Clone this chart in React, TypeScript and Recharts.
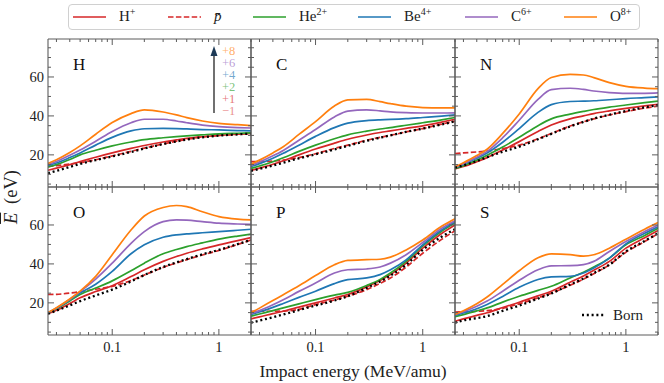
import { LineChart, Line, XAxis, YAxis } from "recharts"

// impact energies (MeV/amu) shared by every panel
const energy = [0.025, 0.03, 0.04, 0.05, 0.07, 0.1, 0.15, 0.2, 0.3, 0.4, 0.5, 0.7, 1, 1.5, 2]

// H target
const hP = [12.1, 13.2, 15.0, 16.5, 18.8, 21.0, 23.3, 24.8, 26.6, 27.7, 28.5, 29.3, 30.0, 30.6, 31.0]
const hPbar = [14.0, 14.5, 15.3, 16.0, 17.5, 19.5, 21.8, 23.5, 25.6, 27.0, 28.0, 29.2, 30.0, 30.6, 31.0]
const hHe = [13.8, 15.0, 17.6, 20.0, 22.4, 24.6, 26.6, 27.8, 28.8, 29.4, 29.8, 30.3, 30.8, 31.1, 31.3]
const hBe = [14.5, 15.8, 18.6, 21.0, 25.0, 29.0, 32.3, 33.4, 33.6, 33.5, 33.3, 33.0, 32.8, 32.5, 32.3]
const hC = [15.0, 16.6, 19.8, 22.5, 27.0, 32.0, 36.5, 38.3, 38.3, 37.4, 36.5, 35.3, 34.5, 34.0, 33.8]
const hO = [15.6, 17.5, 21.2, 24.6, 30.6, 36.6, 41.2, 43.1, 42.0, 40.5, 39.1, 37.4, 36.2, 35.5, 35.0]
const hBorn = [10.6, 11.8, 13.8, 15.4, 17.3, 19.2, 21.5, 23.3, 25.5, 26.9, 27.9, 29.0, 29.9, 30.5, 30.9]

// C target
const cP = [12.0, 13.2, 15.2, 17.0, 20.0, 23.0, 26.0, 28.0, 30.2, 31.5, 32.3, 33.6, 34.9, 36.8, 38.3]
const cPbar = [16.5, 16.5, 16.8, 17.3, 18.6, 20.6, 23.3, 25.0, 27.5, 29.0, 30.0, 31.8, 33.5, 35.8, 37.3]
const cHe = [13.0, 14.3, 16.5, 18.5, 21.8, 25.0, 28.3, 30.3, 32.2, 33.3, 34.0, 35.2, 36.5, 38.0, 39.2]
const cBe = [14.0, 15.5, 18.3, 20.8, 25.0, 29.5, 34.0, 36.3, 37.6, 38.0, 38.2, 38.6, 39.2, 39.9, 40.5]
const cC = [14.6, 16.3, 19.5, 22.3, 27.5, 33.0, 39.5, 42.5, 43.1, 42.6, 42.1, 41.7, 41.5, 41.5, 41.6]
const cO = [15.2, 17.3, 21.0, 24.2, 30.5, 37.1, 45.1, 48.2, 48.5, 47.3, 46.3, 45.0, 44.3, 44.1, 44.1]
const cBorn = [11.8, 12.8, 14.5, 16.0, 18.2, 20.3, 22.8, 24.6, 27.2, 28.8, 30.0, 31.8, 33.5, 35.6, 37.2]

// N target
const nP = [12.8, 14.0, 16.5, 18.6, 22.5, 26.8, 32.0, 35.3, 38.5, 40.0, 41.2, 42.6, 43.9, 45.2, 46.0]
const nPbar = [20.7, 21.0, 21.5, 22.0, 23.2, 25.0, 28.3, 31.0, 34.8, 37.0, 38.5, 40.5, 42.2, 44.0, 45.0]
const nHe = [13.0, 14.5, 17.3, 19.8, 24.0, 29.0, 35.0, 38.5, 40.9, 42.3, 43.3, 44.5, 45.6, 46.8, 47.6]
const nBe = [13.5, 15.2, 18.3, 21.0, 26.5, 33.5, 41.8, 45.8, 47.4, 47.6, 47.8, 48.3, 48.9, 49.4, 49.8]
const nC = [13.5, 15.5, 18.8, 21.8, 28.8, 37.8, 48.5, 53.5, 54.2, 53.6, 52.8, 52.0, 51.6, 51.6, 51.8]
const nO = [13.8, 16.0, 19.7, 22.9, 31.0, 41.0, 54.0, 59.7, 61.3, 61.0, 59.7, 57.1, 55.2, 54.3, 54.0]
const nBorn = [13.5, 14.6, 16.8, 18.8, 21.6, 24.2, 28.0, 30.8, 34.6, 36.9, 38.6, 40.6, 42.5, 44.4, 45.5]

// O target
const oP = [14.4, 16.2, 19.7, 22.6, 25.8, 28.8, 33.5, 37.0, 41.3, 43.8, 45.5, 47.7, 49.8, 52.0, 53.5]
const oPbar = [24.3, 24.4, 25.0, 25.7, 27.0, 28.5, 31.5, 34.3, 38.2, 40.5, 42.2, 44.6, 46.9, 50.0, 52.3]
const oHe = [14.9, 17.0, 21.0, 24.3, 27.6, 31.3, 36.5, 40.4, 45.2, 47.4, 48.9, 50.8, 52.7, 54.3, 55.3]
const oBe = [14.9, 17.2, 21.5, 25.1, 29.6, 36.2, 45.2, 49.8, 53.7, 54.9, 55.4, 56.0, 56.6, 57.3, 57.8]
const oC = [14.9, 17.3, 21.8, 25.8, 32.2, 40.4, 50.6, 56.6, 61.7, 62.6, 62.5, 61.7, 60.9, 60.5, 60.3]
const oO = [14.9, 17.5, 22.0, 26.0, 33.6, 44.7, 57.4, 64.6, 69.0, 70.0, 69.4, 66.8, 64.3, 63.0, 62.6]
const oBorn = [14.4, 16.0, 18.7, 20.9, 23.8, 26.8, 31.0, 34.3, 38.4, 40.8, 42.5, 44.9, 47.2, 50.2, 52.3]

// P target
const pP = [11.8, 12.8, 14.5, 15.7, 17.8, 20.0, 22.5, 24.3, 28.2, 31.5, 34.5, 40.4, 48.1, 55.6, 60.0]
const pPbar = [15.7, 15.7, 15.7, 15.8, 16.7, 19.1, 21.5, 23.4, 26.8, 30.0, 32.8, 38.4, 45.5, 52.6, 57.0]
const pHe = [13.2, 14.3, 16.0, 17.4, 19.5, 21.7, 24.0, 25.4, 28.9, 32.0, 35.3, 41.3, 49.3, 56.8, 61.2]
const pBe = [14.0, 15.4, 17.7, 19.7, 22.8, 26.0, 29.9, 31.9, 32.8, 34.5, 37.0, 42.1, 49.8, 57.4, 61.7]
const pC = [14.5, 16.0, 19.0, 21.6, 25.9, 30.2, 35.3, 37.0, 37.4, 38.4, 40.4, 44.7, 51.0, 58.3, 62.2]
const pO = [14.9, 17.3, 21.2, 24.2, 28.8, 34.0, 39.6, 41.8, 42.2, 42.4, 43.5, 47.2, 52.3, 59.3, 63.2]
const pBorn = [9.8, 10.9, 12.6, 14.0, 16.3, 18.6, 21.2, 23.4, 27.7, 31.0, 34.0, 39.6, 47.2, 54.0, 57.8]

// S target
const sP = [10.6, 11.8, 13.6, 14.9, 17.6, 20.3, 23.6, 26.0, 30.6, 33.8, 36.7, 41.3, 48.1, 53.4, 57.1]
const sPbar = [15.3, 15.4, 15.7, 16.0, 17.2, 19.5, 22.6, 25.0, 29.0, 32.2, 35.0, 39.5, 46.0, 51.5, 55.5]
const sHe = [12.9, 14.0, 15.9, 17.4, 20.4, 23.4, 26.4, 28.5, 32.8, 35.7, 38.4, 43.0, 49.8, 54.6, 58.3]
const sBe = [13.5, 14.8, 17.0, 19.2, 23.3, 28.0, 32.0, 33.3, 33.6, 35.3, 37.9, 43.0, 50.3, 55.7, 59.1]
const sC = [14.0, 15.5, 18.3, 20.9, 26.0, 31.6, 37.0, 39.0, 39.1, 39.6, 41.3, 46.4, 51.5, 56.6, 60.0]
const sO = [14.0, 15.9, 19.5, 23.0, 29.5, 36.5, 43.2, 45.2, 44.8, 44.0, 44.7, 48.1, 52.7, 57.8, 61.2]
const sBorn = [9.8, 11.0, 12.2, 13.2, 15.9, 18.6, 22.2, 24.8, 29.4, 32.5, 35.3, 39.6, 46.4, 51.8, 55.7]

const xTicks = [0.03, 0.04, 0.05, 0.06, 0.07, 0.08, 0.09, 0.1, 0.2, 0.3, 0.4, 0.5, 0.6, 0.7, 0.8, 0.9, 1, 2]
const xMajor = [0.1, 1]
const yTicks = [5, 10, 15, 20, 25, 30, 35, 40, 45, 50, 55, 60, 65, 70, 75]
const yMajor = [20, 40, 60]
const chargeLabels = ["+8", "+6", "+4", "+2", "+1", "\u22121"]

const FONT = "'Liberation Serif', 'Times New Roman', serif"
const FRAME = "#5c5c5c"
const RED = "#d62728"
const GREEN = "#2ca02c"
const BLUE = "#1f77b4"
const PURPLE = "#9467bd"
const ORANGE = "#ff7f0e"
const labelColors = [ORANGE, PURPLE, BLUE, GREEN, RED, RED]

const series = [
  { key: "p", color: RED, dash: undefined as string | undefined, width: 1.7 },
  { key: "pbar", color: RED, dash: "5.5 2.4", width: 1.7 },
  { key: "he", color: GREEN, dash: undefined, width: 1.7 },
  { key: "be", color: BLUE, dash: undefined, width: 1.7 },
  { key: "c", color: PURPLE, dash: undefined, width: 1.7 },
  { key: "o", color: ORANGE, dash: undefined, width: 1.7 },
  { key: "born", color: "#000", dash: "2 2.8", width: 2.3 },
]

const panels = [
  { name: "H", left: 48, top: 39, width: 203, vals: [hP, hPbar, hHe, hBe, hC, hO, hBorn] },
  { name: "C", left: 251, top: 39, width: 204, vals: [cP, cPbar, cHe, cBe, cC, cO, cBorn] },
  { name: "N", left: 455, top: 39, width: 203, vals: [nP, nPbar, nHe, nBe, nC, nO, nBorn] },
  { name: "O", left: 48, top: 187, width: 203, vals: [oP, oPbar, oHe, oBe, oC, oO, oBorn] },
  { name: "P", left: 251, top: 187, width: 204, vals: [pP, pPbar, pHe, pBe, pC, pO, pBorn] },
  { name: "S", left: 455, top: 187, width: 203, vals: [sP, sPbar, sHe, sBe, sC, sO, sBorn] },
]
const PANEL_H = 148
const M = 30

function XTick({ x, y, payload, top, showLabel }: any) {
  const v = payload.value
  const major = xMajor.includes(v)
  const len = major ? 6 : 3
  return (
    <g>
      <line x1={x} x2={x} y1={y} y2={top ? y + len : y - len} stroke={FRAME} strokeWidth={1} />
      {showLabel && major ? (
        <text x={x} y={y + 17} textAnchor="middle" fontSize={14.5} fontFamily={FONT} fill="#222">
          {String(v)}
        </text>
      ) : null}
    </g>
  )
}

function YTick({ x, y, payload, right, showLabel }: any) {
  const v = payload.value
  const major = yMajor.includes(v)
  const len = major ? 6 : 3
  return (
    <g>
      <line x1={x} x2={right ? x - len : x + len} y1={y} y2={y} stroke={FRAME} strokeWidth={1} />
      {showLabel && major ? (
        <text x={x - 4} y={y + 5} textAnchor="end" fontSize={14.5} fontFamily={FONT} fill="#222">
          {v}
        </text>
      ) : null}
    </g>
  )
}

function Panel({ panel, showX, showY }: any) {
  const data = energy.map((e, i) => {
    const row: any = { e }
    series.forEach((s, k) => {
      row[s.key] = panel.vals[k][i]
    })
    return row
  })
  const axisLine = { stroke: FRAME, strokeWidth: 1.1 }
  const xCommon = {
    dataKey: "e",
    type: "number" as const,
    scale: "log" as const,
    domain: [0.025, 2],
    allowDataOverflow: true,
    ticks: xTicks,
    interval: 0,
    height: 1,
    tickSize: 0,
    tickMargin: 0,
    tickLine: false,
    axisLine,
  }
  const yCommon = {
    type: "number" as const,
    domain: [3.5, 79.5],
    allowDataOverflow: true,
    ticks: yTicks,
    interval: 0,
    width: 1,
    tickSize: 0,
    tickMargin: 0,
    tickLine: false,
    axisLine,
  }
  return (
    <div style={{ position: "absolute", left: panel.left - M, top: panel.top - M }}>
      <LineChart
        width={panel.width + 2 * M}
        height={PANEL_H + 2 * M}
        data={data}
        margin={{ top: M - 1, right: M - 1, bottom: M - 1, left: M - 1 }}
      >
        <XAxis {...xCommon} tick={(p: any) => <XTick {...p} showLabel={showX} />} />
        <XAxis {...xCommon} xAxisId="top" orientation="top" tick={(p: any) => <XTick {...p} top />} />
        <YAxis {...yCommon} tick={(p: any) => <YTick {...p} showLabel={showY} />} />
        <YAxis {...yCommon} yAxisId="right" orientation="right" tick={(p: any) => <YTick {...p} right />} />
        {series.map((s) => (
          <Line
            key={s.key}
            type="monotone"
            dataKey={s.key}
            stroke={s.color}
            strokeWidth={s.width}
            strokeDasharray={s.dash}
            dot={false}
            isAnimationActive={false}
          />
        ))}
      </LineChart>
      <div
        style={{
          position: "absolute",
          left: M + 25,
          top: M + 17,
          fontFamily: FONT,
          fontSize: 17,
          color: "#111",
          lineHeight: "17px",
        }}
      >
        {panel.name}
      </div>
    </div>
  )
}

const legendItems = [
  { x: 73, color: RED, dash: undefined as string | undefined, base: "H", sup: "+", italic: false },
  { x: 168, color: RED, dash: "5.5 2.4", base: "p\u0304", sup: "", italic: true },
  { x: 253, color: GREEN, dash: undefined, base: "He", sup: "2+", italic: false },
  { x: 358, color: BLUE, dash: undefined, base: "Be", sup: "4+", italic: false },
  { x: 465, color: PURPLE, dash: undefined, base: "C", sup: "6+", italic: false },
  { x: 564, color: ORANGE, dash: undefined, base: "O", sup: "8+", italic: false },
]

export default function App() {
  return (
    <div style={{ position: "absolute", left: 0, top: 0, width: 664, height: 383, background: "#fff", fontFamily: FONT }}>
      {panels.map((p, i) => (
        <Panel key={p.name} panel={p} showX={i >= 3} showY={i % 3 === 0} />
      ))}

      {/* legend */}
      <div
        style={{
          position: "absolute",
          left: 68,
          top: 4,
          width: 572,
          height: 26,
          border: "1px solid #d0d0d0",
          borderRadius: 4,
          boxSizing: "border-box",
          background: "#fff",
        }}
      />
      <svg width={664} height={383} style={{ position: "absolute", left: 0, top: 0, pointerEvents: "none" }}>
        {legendItems.map((it) => (
          <line key={it.x} x1={it.x} x2={it.x + 33} y1={17} y2={17} stroke={it.color} strokeWidth={1.7} strokeDasharray={it.dash} />
        ))}
        {/* charge arrow in the H panel */}
        <line x1={214} x2={214} y1={113} y2={54} stroke="#111" strokeWidth={1.2} />
        <polygon points="214,46 210.5,56 217.5,56" fill="#1d3a56" />
        {chargeLabels.map((t, i) => (
          <text
            key={t}
            x={222}
            y={55 + i * 12}
            fontSize={12.5}
            fontFamily={FONT}
            fill={labelColors[i]}
            fillOpacity={i === 5 ? 0.55 : 0.65}
          >
            {t}
          </text>
        ))}
        {/* Born key in the S panel */}
        <line x1={582} x2={604} y1={315} y2={315} stroke="#000" strokeWidth={2.3} strokeDasharray="2 2.8" />
        <text x={613} y={320} fontSize={15} fontFamily={FONT} fill="#222">
          Born
        </text>
        <text x={353} y={377} textAnchor="middle" fontSize={17.5} fontFamily={FONT} fill="#222">
          Impact energy (MeV/amu)
        </text>
      </svg>
      {legendItems.map((it) => (
        <div
          key={"t" + it.x}
          style={{
            position: "absolute",
            left: it.x + 46,
            top: 8,
            fontSize: 15,
            lineHeight: "17px",
            color: "#222",
            fontStyle: it.italic ? "italic" : "normal",
            whiteSpace: "nowrap",
          }}
        >
          {it.base}
          {it.sup ? <sup style={{ fontSize: 10, verticalAlign: "6px", lineHeight: 0 }}>{it.sup}</sup> : null}
        </div>
      ))}
      <div
        style={{
          position: "absolute",
          left: 11,
          top: 197,
          transform: "translate(-50%, -50%) rotate(-90deg)",
          fontSize: 18.5,
          lineHeight: "20px",
          color: "#222",
          whiteSpace: "nowrap",
        }}
      >
        <span style={{ fontStyle: "italic", textDecoration: "overline", marginRight: 4 }}>E</span> (eV)
      </div>
    </div>
  )
}
